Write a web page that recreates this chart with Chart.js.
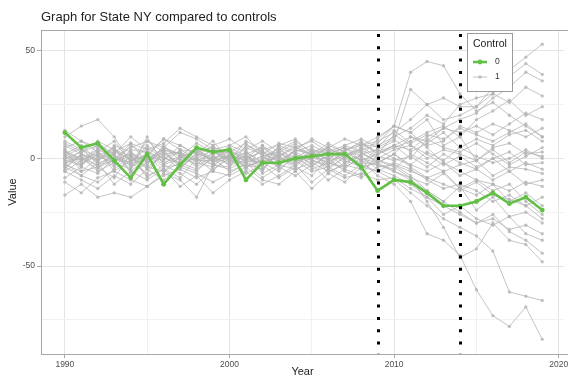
<!DOCTYPE html>
<html>
<head>
<meta charset="utf-8">
<script src="https://cdn.jsdelivr.net/npm/chart.js@4.4.0/dist/chart.umd.min.js"></script>
<style>
  html, body { margin: 0; padding: 0; background: #fff; }
  #wrap { position: relative; width: 568px; height: 379px; }
</style>
</head>
<body>
<div id="wrap"><canvas id="chart" width="568" height="379"></canvas></div>
<script>
// years and tick labels
const years = [1990,1991,1992,1993,1994,1995,1996,1997,1998,1999,2000,2001,2002,2003,2004,2005,2006,2007,2008,2009,2010,2011,2012,2013,2014,2015,2016,2017,2018,2019];
const xTicks = [1990, 2000, 2010, 2020];
const xMinor = [1995, 2005, 2015];
const yTicks = [-50, 0, 50];
const yMinor = [-75, -25, 25];
const interventions = [2009, 2014];

// treated state (Control = 0)
const nyValues = [12,5,7,-1,-9,2,-12,-3,5,3, 4,-10,-2,-2,0,1,2,2,-4,-15, -10,-11,-16,-22,-22,-20,-16,-21,-18,-24];

// control states (Control = 1)
const c01 = [2,-3,4,1,-2,5,0,3,-1,2, 4,0,3,1,5,2,0,4,6,8, 12,18,25,28,24,24,33,41,47,53];
const c02 = [-4,2,-1,6,3,-2,4,1,7,3, 0,5,2,-1,3,6,2,5,1,9, 15,40,45,43,30,22,26,20,15,10];
const c03 = [5,8,3,-2,6,2,9,4,3,-1, 6,3,-2,4,8,3,5,1,4,6, 10,14,20,16,25,28,30,38,44,39];
const c04 = [-1,0,-5,3,0,-4,2,-2,0,4, -2,1,-3,2,-1,0,3,-2,2,4, 8,32,25,18,20,24,30,26,33,29];
const c05 = [3,-2,1,5,-4,1,-1,6,2,-3, 1,-4,0,5,2,-3,1,3,-1,2, 5,8,12,15,10,18,22,27,20,24];
const c06 = [8,4,-2,0,5,8,3,-3,4,0, 3,7,1,-3,4,9,5,0,7,3, 6,4,10,14,12,15,11,16,21,18];
const c07 = [0,3,6,-3,2,-1,5,2,-4,1, -3,2,5,0,-2,3,-1,6,3,-2, 2,10,6,8,15,12,16,13,10,14];
const c08 = [-6,-1,2,-4,4,3,-3,0,5,-2, 2,-1,4,-5,1,-2,4,2,-3,5, 9,3,7,12,5,9,6,11,13,8];
const c09 = [1,5,-3,2,-6,0,4,-4,1,6, -1,3,-2,1,6,-1,-3,2,4,0, 4,6,0,4,2,-1,5,7,2,3];
const c10 = [-3,-6,0,4,1,-5,2,3,-2,-4, 4,-2,1,3,-3,4,2,-4,0,-2, 2,-3,3,-1,5,1,-2,0,4,0];
const c11 = [6,2,-4,-1,7,4,-2,1,3,5, -4,6,3,-2,0,5,-1,1,5,1, -1,1,-4,2,-2,-5,0,3,-3,-2];
const c12 = [-9,-4,-7,0,-3,2,-6,-2,-5,0, -6,-3,-5,3,-1,-6,-4,0,-2,-3, -5,2,-2,-6,-3,-1,-8,-4,-5,-7];
const c13 = [4,-1,3,8,-2,6,1,-5,3,-1, 5,1,-4,6,3,-1,6,3,-5,4, 0,-3,-6,-2,-8,-5,-10,-6,-12,-10];
const c14 = [-11,-16,-9,-6,-10,-13,-8,-5,-9,-6, -8,-4,-10,-12,-6,-14,-7,-11,-4,-2, -6,-9,-12,-7,-14,-10,-12,-15,-11,-13];
const c15 = [-17,-12,-18,-16,-18,-13,-7,-10,-18,-3, -5,0,-2,-6,2,-1,-4,-8,-3,-6, -2,-5,-10,-14,-12,-15,-20,-17,-22,-18];
const c16 = [13,8,5,2,10,4,7,14,10,6, 9,4,8,3,7,1,5,9,6,10, 15,12,5,-2,-6,-10,-15,-12,-20,-26];
const c17 = [-2,-8,-11,-5,1,-9,-3,-7,-12,-5, 0,-7,-3,-9,-4,-8,0,-6,-9,-4, -3,-8,-15,-20,-13,-24,-18,-27,-25,-30];
const c18 = [1,-4,7,2,-5,10,-3,4,0,-6, 2,-5,6,1,-4,3,-7,-2,1,-5, -8,-12,-18,-26,-22,-28,-31,-27,-35,-38];
const c19 = [-5,2,-1,5,-7,-2,3,-4,2,0, -2,3,-6,4,0,-4,2,5,-1,-3, -6,-10,-15,-20,-25,-30,-26,-34,-38,-44];
const c20 = [3,0,-3,-1,2,-4,-6,1,-3,3, -1,-2,1,-4,4,2,-2,-5,2,-1, -4,-9,-20,-32,-46,-42,-30,-38,-40,-48];
const c21 = [-3,4,1,-2,-5,3,0,-2,5,2, 3,-4,-1,0,-3,2,4,-1,-4,-6, -10,-16,-22,-28,-32,-36,-43,-62,-64,-66];
const c22 = [-1,-3,2,0,-2,-7,4,2,-1,-1, 1,-1,-2,-3,2,-5,-2,3,-1,-8, -12,-20,-35,-38,-45,-61,-73,-78,-69,-84];
const c23 = [10,15,18,10,-2,8,5,12,9,4, 6,10,2,7,5,8,3,6,9,5, 13,7,11,9,14,11,8,12,16,10];
const c24 = [-6,-10,-14,-8,-12,-5,-10,-4,-7,-11, -7,-2,-9,-4,-8,-3,-10,-5,-8,2, 6,0,9,5,3,7,2,-3,1,5];
const c25 = [7,3,8,4,-1,1,9,6,2,8, -1,8,4,6,9,2,7,3,8,2, 11,6,2,-3,1,-4,0,-6,-2,-5];
const c26 = [0,1,-6,-2,3,-3,6,-1,4,-2, 2,-4,-1,5,-2,4,-5,1,3,-2, 2,-4,-9,-6,-14,-17,-12,-20,-16,-22];
const c27 = [-4,-8,-2,-12,-6,-10,-5,-13,-8,-16, -10,-6,-12,-8,-3,-11,-5,-9,-7,-10, -9,-14,-18,-22,-26,-30,-28,-33,-31,-35];
const c28 = [2,6,-1,3,7,-2,5,2,-3,5, 3,0,6,-2,4,2,-3,4,7,2, 6,10,8,14,18,21,28,33,40,36];
const c29 = [-2,0,4,-6,-1,2,-4,-3,-6,1, 0,-2,-5,2,-6,1,-2,-4,5,7, 15,12,18,6,10,-1,4,-2,3,1];
const c30 = [4,-6,-4,-9,2,-8,-5,-9,0,-3, -4,2,-7,-3,-5,-2,-6,-3,-5,-1, -3,-6,-9,-12,-15,-11,-17,-19,-22,-28];
const controls = [c01,c02,c03,c04,c05,c06,c07,c08,c09,c10,c11,c12,c13,c14,c15,c16,c17,c18,c19,c20,c21,c22,c23,c24,c25,c26,c27,c28,c29,c30];

const GREEN = '#62c046';
const GREY = 'rgba(180,180,180,0.78)';
const FONT = "'Liberation Sans', Arial, sans-serif";

const toPoints = (vals) => years.map((yr, i) => ({ x: yr, y: vals[i] }));

const datasets = [{
    label: '0',
    data: toPoints(nyValues),
    borderColor: GREEN,
    backgroundColor: GREEN,
    borderWidth: 2.6,
    pointRadius: 2.4,
    pointBorderWidth: 0,
    tension: 0,
    order: 0
}];
controls.forEach((vals) => {
    datasets.push({
        label: '1',
        data: toPoints(vals),
        borderColor: GREY,
        backgroundColor: GREY,
        borderWidth: 1,
        pointRadius: 1.7,
        pointBorderWidth: 0,
        tension: 0,
        order: 1
    });
});

const decor = {
    id: 'decor',
    beforeDraw(chart) {
        const ctx = chart.ctx;
        ctx.save();
        ctx.fillStyle = '#fff';
        ctx.fillRect(0, 0, chart.width, chart.height);
        ctx.restore();
    },
    beforeDatasetsDraw(chart) {
        const { ctx, chartArea: a } = chart;
        ctx.save();
        ctx.strokeStyle = '#a8a8a8';
        ctx.lineWidth = 1;
        ctx.strokeRect(a.left + 0.5, a.top + 0.5, a.right - a.left + 4, a.bottom - a.top);
        ctx.restore();
    },
    afterDatasetsDraw(chart) {
        const { ctx, chartArea: a, scales } = chart;
        ctx.save();
        ctx.strokeStyle = '#000';
        ctx.lineWidth = 3;
        ctx.setLineDash([3, 9.3]);
        interventions.forEach((yr) => {
            const px = Math.round(scales.x.getPixelForValue(yr)) + 0.5;
            ctx.beginPath();
            ctx.moveTo(px, a.top + 4);
            ctx.lineTo(px, a.bottom);
            ctx.stroke();
        });
        ctx.restore();
    },
    afterDraw(chart) {
        const { ctx, chartArea: a } = chart;
        ctx.save();
        // title
        ctx.fillStyle = '#222';
        ctx.font = '13px ' + FONT;
        ctx.textBaseline = 'alphabetic';
        ctx.fillText('Graph for State NY compared to controls', a.left, 21);

        // legend box
        const lx = 467, ly = 33, lw = 45, lh = 58;
        ctx.fillStyle = '#fff';
        ctx.fillRect(lx, ly, lw, lh);
        ctx.strokeStyle = '#9a9a9a';
        ctx.lineWidth = 1;
        ctx.strokeRect(lx + 0.5, ly + 0.5, lw, lh);
        ctx.fillStyle = '#222';
        ctx.font = '10.5px ' + FONT;
        ctx.textBaseline = 'middle';
        ctx.fillText('Control', lx + 6, ly + 11);

        const keys = [
            { label: '0', color: GREEN, w: 2.6, r: 2.4, y: ly + 29 },
            { label: '1', color: GREY, w: 1, r: 1.7, y: ly + 44 }
        ];
        keys.forEach((k) => {
            ctx.strokeStyle = k.color;
            ctx.lineWidth = k.w;
            ctx.beginPath();
            ctx.moveTo(lx + 6, k.y);
            ctx.lineTo(lx + 20, k.y);
            ctx.stroke();
            ctx.fillStyle = k.color;
            ctx.beginPath();
            ctx.arc(lx + 13, k.y, k.r, 0, Math.PI * 2);
            ctx.fill();
            ctx.fillStyle = '#333';
            ctx.font = '8.5px ' + FONT;
            ctx.fillText(k.label, lx + 28, k.y);
        });
        ctx.restore();
    }
};

const majorOrMinor = (major) => (c) => (c.tick && major.includes(c.tick.value));

new Chart(document.getElementById('chart'), {
    type: 'line',
    data: { datasets: datasets },
    options: {
        responsive: false,
        animation: false,
        devicePixelRatio: 1,
        layout: { padding: { top: 30, right: 0, left: 0, bottom: 0 } },
        plugins: {
            legend: { display: false },
            tooltip: { enabled: false },
            title: { display: false }
        },
        scales: {
            x: {
                type: 'linear',
                min: 1988.55,
                max: 2020.32,
                afterFit(scale) {
                    scale.height = 25;
                    scale.paddingLeft = 0;
                    scale.paddingRight = 0;
                },
                afterBuildTicks(scale) {
                    scale.ticks = xTicks.concat(xMinor).sort((p, q) => p - q).map((v) => ({ value: v }));
                },
                ticks: {
                    autoSkip: false,
                    maxRotation: 0,
                    padding: 2,
                    color: '#4d4d4d',
                    font: { family: FONT, size: 8.5 },
                    callback: (v) => xTicks.includes(v) ? String(v) : ''
                },
                grid: {
                    color: (c) => majorOrMinor(xTicks)(c) ? '#e4e4e4' : '#f1f1f1',
                    tickColor: (c) => majorOrMinor(xTicks)(c) ? '#a8a8a8' : 'rgba(0,0,0,0)',
                    tickLength: 4,
                    lineWidth: 1
                },
                border: { display: false },
                title: {
                    display: true,
                    text: 'Year',
                    color: '#222',
                    font: { family: FONT, size: 11 },
                    padding: { top: 0, bottom: 0 }
                }
            },
            y: {
                type: 'linear',
                min: -90.8,
                max: 59.6,
                afterFit(scale) {
                    scale.width = 41;
                    scale.paddingTop = 0;
                    scale.paddingBottom = 0;
                },
                afterBuildTicks(scale) {
                    scale.ticks = yTicks.concat(yMinor).sort((p, q) => p - q).map((v) => ({ value: v }));
                },
                ticks: {
                    autoSkip: false,
                    padding: 2,
                    color: '#4d4d4d',
                    font: { family: FONT, size: 8.5 },
                    callback: (v) => yTicks.includes(v) ? String(v) : ''
                },
                grid: {
                    color: (c) => majorOrMinor(yTicks)(c) ? '#e4e4e4' : '#f1f1f1',
                    tickColor: (c) => majorOrMinor(yTicks)(c) ? '#a8a8a8' : 'rgba(0,0,0,0)',
                    tickLength: 4,
                    lineWidth: 1
                },
                border: { display: false },
                title: {
                    display: true,
                    text: 'Value',
                    color: '#222',
                    font: { family: FONT, size: 11 },
                    padding: { top: 6, bottom: 0 }
                }
            }
        }
    },
    plugins: [decor]
});
</script>
</body>
</html>
